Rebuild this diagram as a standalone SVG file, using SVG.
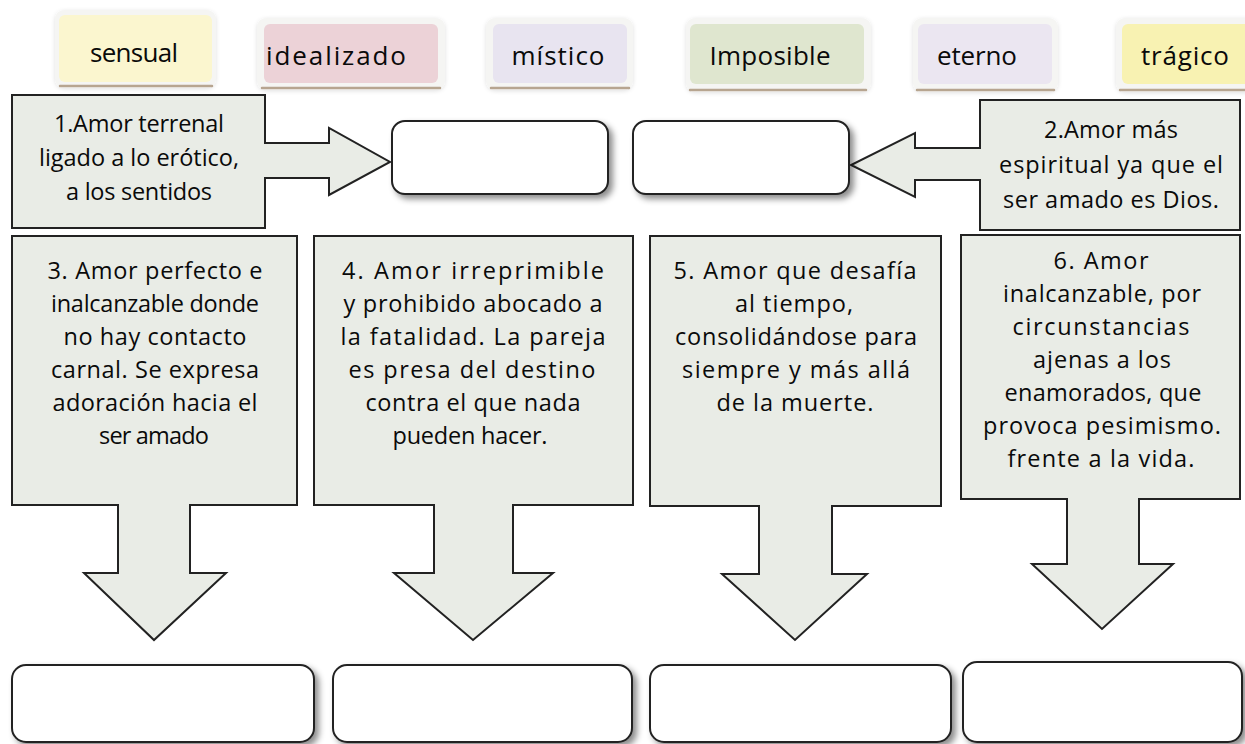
<svg xmlns="http://www.w3.org/2000/svg" width="1245" height="744" viewBox="0 0 1245 744">
<defs>
<filter id="shadow" x="-10%" y="-10%" width="130%" height="140%">
<feDropShadow dx="4" dy="4" stdDeviation="3" flood-color="#000" flood-opacity="0.45"/>
</filter>
<filter id="soft" x="-10%" y="-10%" width="120%" height="130%">
<feDropShadow dx="0" dy="1" stdDeviation="2" flood-color="#000" flood-opacity="0.12"/>
</filter>
<style>
.box{fill:#e9ece6;stroke:#222;stroke-width:2;stroke-linejoin:miter}
.empty{fill:#fff;stroke:#222;stroke-width:2}
.frame{fill:#f5f5f3}
.edge{fill:none;stroke:#b7a590;stroke-width:2.5;stroke-linecap:round}
.t{font-family:"Open Sans","DejaVu Sans",sans-serif;font-size:23.5px;fill:#0a0a0a;text-anchor:middle}
.c{font-family:"Open Sans","DejaVu Sans",sans-serif;font-size:26px;fill:#0a0a0a;text-anchor:middle}
</style>
</defs>
<rect width="1245" height="744" fill="#fff"/>

<g id="chip-sensual">
<rect class="frame" x="55" y="10" width="161" height="78" rx="9" filter="url(#soft)"/>
<rect x="59" y="15" width="153" height="67" rx="6" fill="#fbf6cf"/>
<path class="edge" d="M60 86 H212"/>
<text class="c" x="134" y="62" textLength="88">sensual</text>
</g>
<g id="chip-idealizado">
<rect class="frame" x="257" y="18" width="188" height="72" rx="9" filter="url(#soft)"/>
<rect x="264" y="24" width="174" height="59" rx="6" fill="#ecd2d7"/>
<path class="edge" d="M262 88 H440"/>
<text class="c" x="336" y="65" textLength="140">idealizado</text>
</g>
<g id="chip-mistico">
<rect class="frame" x="486" y="18" width="147" height="72" rx="9" filter="url(#soft)"/>
<rect x="493" y="24" width="134" height="59" rx="6" fill="#e8e4f0"/>
<path class="edge" d="M491 88 H629"/>
<text class="c" x="558" y="65" textLength="93">místico</text>
</g>
<g id="chip-imposible">
<rect class="frame" x="686" y="18" width="185" height="74" rx="9" filter="url(#soft)"/>
<rect x="690" y="24" width="174" height="60" rx="6" fill="#dfe6cf"/>
<path class="edge" d="M690 90 H866"/>
<text class="c" x="770" y="65" textLength="121">Imposible</text>
</g>
<g id="chip-eterno">
<rect class="frame" x="913" y="18" width="145" height="74" rx="9" filter="url(#soft)"/>
<rect x="918" y="24" width="134" height="60" rx="6" fill="#ebe6f1"/>
<path class="edge" d="M917 90 H1054"/>
<text class="c" x="977" y="65" textLength="80">eterno</text>
</g>
<g id="chip-tragico">
<rect class="frame" x="1116" y="18" width="140" height="74" rx="9" filter="url(#soft)"/>
<rect x="1122" y="24" width="130" height="60" rx="6" fill="#f8f2b2"/>
<path class="edge" d="M1120 90 H1245"/>
<text class="c" x="1185" y="65" textLength="88">trágico</text>
</g>

<g id="connectors">
<path class="box" d="M12 95 H265 V143 H329 V128 L390 162 L329 195 V178 H265 V228 H12 Z"/>
<path class="box" d="M980 100 H1240 V230 H980 V180 H915 V197 L851 165 L915 133 V148 H980 Z"/>
<path class="box" d="M12 236 H297 V505 H190 V573 H226 L154 640 L84 573 H118 V505 H12 Z"/>
<path class="box" d="M314 236 H633 V505 H513 V573 H553 L473 640 L394 573 H434 V505 H314 Z"/>
<path class="box" d="M650 236 H941 V506 H832 V574 H867 L795 640 L722 574 H759 V506 H650 Z"/>
<path class="box" d="M961 235 H1240 V499 H1139 V564 H1173 L1102 629 L1032 564 H1067 V499 H961 Z"/>
</g>

<g id="node-1">
<text class="t" x="139" y="132" textLength="170">1.Amor terrenal</text>
<text class="t" x="139" y="166" textLength="200">ligado a lo erótico,</text>
<text class="t" x="139" y="200" textLength="146">a los sentidos</text>
</g>
<g id="node-2">
<text class="t" x="1111" y="138" textLength="134">2.Amor más</text>
<text class="t" x="1111" y="173" textLength="224">espiritual ya que el</text>
<text class="t" x="1111" y="208" textLength="216">ser amado es Dios.</text>
</g>
<g id="node-3">
<text class="t" x="155" y="279" textLength="215">3. Amor perfecto e</text>
<text class="t" x="155" y="312" textLength="208">inalcanzable donde</text>
<text class="t" x="155" y="345" textLength="183">no hay contacto</text>
<text class="t" x="155" y="378" textLength="208">carnal. Se expresa</text>
<text class="t" x="155" y="411" textLength="205">adoración hacia el</text>
<text class="t" x="154" y="444" textLength="110">ser amado</text>
</g>
<g id="node-4">
<text class="t" x="473" y="279" textLength="262">4. Amor irreprimible</text>
<text class="t" x="473" y="312" textLength="259">y prohibido abocado a</text>
<text class="t" x="473" y="345" textLength="265">la fatalidad. La pareja</text>
<text class="t" x="472" y="378" textLength="247">es  presa del destino</text>
<text class="t" x="473" y="411" textLength="215">contra el que nada</text>
<text class="t" x="470" y="444" textLength="155">pueden hacer.</text>
</g>
<g id="node-5">
<text class="t" x="795" y="279" textLength="243">5. Amor que desafía</text>
<text class="t" x="794" y="312" textLength="118">al tiempo,</text>
<text class="t" x="796" y="345" textLength="242">consolidándose para</text>
<text class="t" x="796" y="378" textLength="228">siempre y más allá</text>
<text class="t" x="795" y="411" textLength="157">de la muerte.</text>
</g>
<g id="node-6">
<text class="t" x="1101" y="269" textLength="95">6. Amor</text>
<text class="t" x="1102" y="302" textLength="198">inalcanzable, por</text>
<text class="t" x="1101" y="335" textLength="177">circunstancias</text>
<text class="t" x="1102" y="368" textLength="138">ajenas a los</text>
<text class="t" x="1103" y="401" textLength="197">enamorados, que</text>
<text class="t" x="1102" y="434" textLength="238">provoca pesimismo.</text>
<text class="t" x="1101" y="467" textLength="187">frente a la vida.</text>
</g>

<g id="empty-top-1"><rect class="empty" x="392" y="121" width="216" height="73" rx="13" filter="url(#shadow)"/></g>
<g id="empty-top-2"><rect class="empty" x="633" y="121" width="216" height="73" rx="13" filter="url(#shadow)"/></g>
<g id="empty-bottom-1"><rect class="empty" x="12" y="665" width="302" height="77" rx="14" filter="url(#shadow)"/></g>
<g id="empty-bottom-2"><rect class="empty" x="333" y="665" width="299" height="77" rx="14" filter="url(#shadow)"/></g>
<g id="empty-bottom-3"><rect class="empty" x="650" y="665" width="301" height="77" rx="14" filter="url(#shadow)"/></g>
<g id="empty-bottom-4"><rect class="empty" x="963" y="662" width="279" height="80" rx="14" filter="url(#shadow)"/></g>
</svg>
